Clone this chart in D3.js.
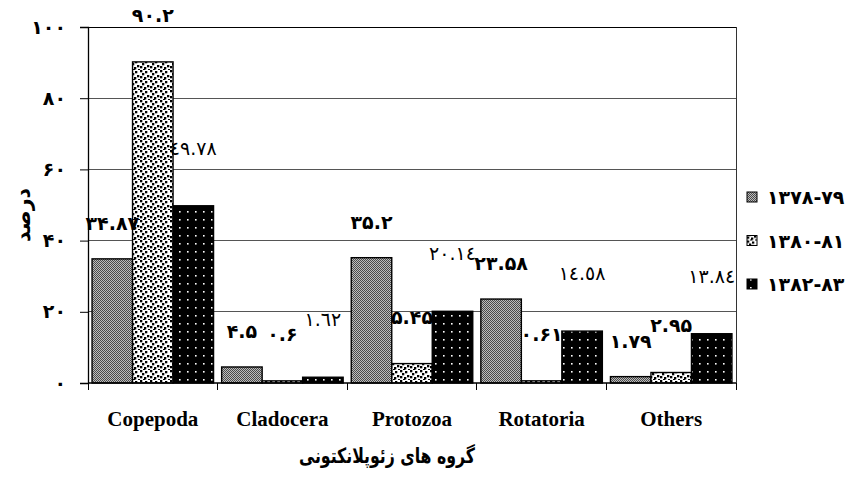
<!DOCTYPE html>
<html>
<head>
<meta charset="utf-8">
<script src="https://cdn.jsdelivr.net/npm/d3@7"></script>
<style>
  html, body { margin: 0; padding: 0; background: #fff; }
  svg { display: block; }
</style>
</head>
<body>
<svg id="chart" width="851" height="481"></svg>
<script>
// ---- data ----
const categories = ["Copepoda", "Cladocera", "Protozoa", "Rotatoria", "Others"];
const seriesNames = ["۱۳۷۸-۷۹", "۱۳۸۰-۸۱", "۱۳۸۲-۸۳"];
const series1 = [34.87, 4.5, 35.2, 23.58, 1.79];
const series2 = [90.2, 0.6, 5.45, 0.61, 2.95];
const series3 = [49.78, 1.62, 20.14, 14.58, 13.84];
const yTicks = [0, 20, 40, 60, 80, 100];
const yTitle = "درصد";
const xTitle = "گروه های زئوپلانکتونی";

// ---- helpers ----
const persianDigits = "۰۱۲۳۴۵۶۷۸۹";
const arabicDigits = "٠١٢٣٤٥٦٧٨٩";
function toDigits(v, set) {
  return String(v).replace(/[0-9]/g, d => set[+d]);
}

const svg = d3.select("#chart");
const margin = { left: 88, right: 736, top: 27, bottom: 383 };

const x = d3.scaleBand().domain(categories).range([margin.left, margin.right]).paddingInner(0).paddingOuter(0);
const xs = d3.scaleBand().domain([0, 1, 2]).range([0, x.bandwidth()]).paddingInner(0).paddingOuter(0.1);
const y = d3.scaleLinear().domain([0, 100]).range([margin.bottom, margin.top]);

// ---- patterns ----
const defs = svg.append("defs");
// series 1: fine grey checker
const p1 = defs.append("pattern").attr("id", "pat1").attr("patternUnits", "userSpaceOnUse")
  .attr("width", 2).attr("height", 2);
p1.append("rect").attr("width", 2).attr("height", 2).attr("fill", "#bdbdbd");
p1.append("rect").attr("width", 1).attr("height", 1).attr("fill", "#4a4a4a");
p1.append("rect").attr("x", 1).attr("y", 1).attr("width", 1).attr("height", 1).attr("fill", "#4a4a4a");
// series 2: white with scattered black squares
const p2 = defs.append("pattern").attr("id", "pat2").attr("patternUnits", "userSpaceOnUse")
  .attr("width", 10).attr("height", 10);
p2.append("rect").attr("width", 10).attr("height", 10).attr("fill", "#fff");
[[0,0],[5,1],[2,3],[7,5],[0,6],[4,7],[8,9],[3,9]].forEach(([a,b]) => {
  p2.append("rect").attr("x", a).attr("y", b).attr("width", 2.3).attr("height", 2.3).attr("fill", "#000");
});
// series 3: black with white dots
const p3 = defs.append("pattern").attr("id", "pat3").attr("patternUnits", "userSpaceOnUse")
  .attr("width", 8).attr("height", 8);
p3.append("rect").attr("width", 8).attr("height", 8).attr("fill", "#000");
p3.append("rect").attr("x", 3).attr("y", 3).attr("width", 1.6).attr("height", 1.6).attr("fill", "#fff");

const fills = ["url(#pat1)", "url(#pat2)", "url(#pat3)"];
const labelLift = [36, 47, 58];
const labelDigits = [persianDigits, persianDigits, arabicDigits];
const labelWeight = ["bold", "bold", "normal"];

// ---- gridlines ----
svg.append("g").selectAll("line").data(yTicks.filter(t => t > 0)).join("line")
  .attr("x1", margin.left).attr("x2", margin.right)
  .attr("y1", d => y(d)).attr("y2", d => y(d))
  .attr("stroke", d => d === 100 ? "#000" : "#555").attr("stroke-width", 1).attr("shape-rendering", "crispEdges");

// plot border (right)
svg.append("line").attr("x1", margin.right).attr("x2", margin.right)
  .attr("y1", margin.top).attr("y2", margin.bottom)
  .attr("stroke", "#333").attr("shape-rendering", "crispEdges");

// ---- bars ----
const allSeries = [series1, series2, series3];
const rows = [];
allSeries.forEach((s, si) => s.forEach((v, ci) => rows.push({ si, ci, v })));

svg.append("g").selectAll("rect").data(rows).join("rect")
  .attr("x", d => x(categories[d.ci]) + xs(d.si))
  .attr("width", xs.bandwidth())
  .attr("y", d => y(d.v))
  .attr("height", d => y(0) - y(d.v))
  .attr("fill", d => fills[d.si])
  .attr("stroke", "#000").attr("stroke-width", 1.4);

// ---- axes ----
const yAxis = d3.axisLeft(y).tickValues(yTicks).tickSize(8).tickPadding(14)
  .tickFormat(d => toDigits(d, persianDigits));
const gy = svg.append("g").attr("transform", `translate(${margin.left},0)`).call(yAxis);
gy.select(".domain").attr("stroke", "#000").attr("stroke-width", 1.3);
gy.selectAll(".tick line").attr("stroke", "#000");
gy.selectAll("text").attr("font-family", "DejaVu Sans").attr("font-weight", "bold")
  .attr("font-size", 19).attr("fill", "#000");

const xb = d3.scaleLinear().domain([0, categories.length]).range([margin.left, margin.right]);
const xAxisG = svg.append("g");
xAxisG.append("line").attr("x1", margin.left).attr("x2", margin.right)
  .attr("y1", y(0)).attr("y2", y(0)).attr("stroke", "#000").attr("stroke-width", 1.3);
xAxisG.selectAll("line.tk").data(d3.range(categories.length + 1)).join("line").attr("class", "tk")
  .attr("x1", d => xb(d)).attr("x2", d => xb(d))
  .attr("y1", y(0)).attr("y2", y(0) + 7)
  .attr("stroke", "#000").attr("shape-rendering", "crispEdges");
xAxisG.selectAll("text").data(categories).join("text")
  .attr("x", d => x(d) + x.bandwidth() / 2)
  .attr("y", y(0) + 43)
  .attr("text-anchor", "middle")
  .attr("font-family", "Liberation Serif").attr("font-weight", "bold").attr("font-size", 21)
  .text(d => d);

// ---- value labels ----
svg.append("g").selectAll("text").data(rows).join("text")
  .attr("x", d => x(categories[d.ci]) + xs(d.si) + xs.bandwidth() / 2)
  .attr("y", d => y(d.v) - labelLift[d.si] + 7)
  .attr("text-anchor", "middle")
  .attr("direction", "ltr")
  .attr("font-family", "DejaVu Sans").attr("font-size", 19)
  .attr("font-weight", d => labelWeight[d.si])
  .text(d => toDigits(d.v, labelDigits[d.si]));

// ---- titles ----
svg.append("text").attr("transform", `translate(30,${215}) rotate(-90)`)
  .attr("text-anchor", "middle")
  .attr("font-family", "DejaVu Sans").attr("font-weight", "bold").attr("font-size", 21)
  .attr("textLength", 54).attr("lengthAdjust", "spacingAndGlyphs")
  .text(yTitle);
svg.append("text").attr("x", 387).attr("y", 463)
  .attr("text-anchor", "middle")
  .attr("font-family", "DejaVu Sans").attr("font-weight", "bold").attr("font-size", 21)
  .attr("textLength", 176).attr("lengthAdjust", "spacingAndGlyphs")
  .text(xTitle);

// ---- legend ----
const legend = svg.append("g").selectAll("g").data(seriesNames).join("g")
  .attr("transform", (d, i) => `translate(747,${197 + i * 43.5})`);
legend.append("rect").attr("x", 0).attr("y", -5).attr("width", 10).attr("height", 10)
  .attr("fill", (d, i) => fills[i]).attr("stroke", "#000");
legend.append("text").attr("x", 20).attr("y", 7)
  .attr("direction", "ltr")
  .attr("font-family", "DejaVu Sans").attr("font-weight", "bold").attr("font-size", 19)
  .text(d => d);
</script>
</body>
</html>
